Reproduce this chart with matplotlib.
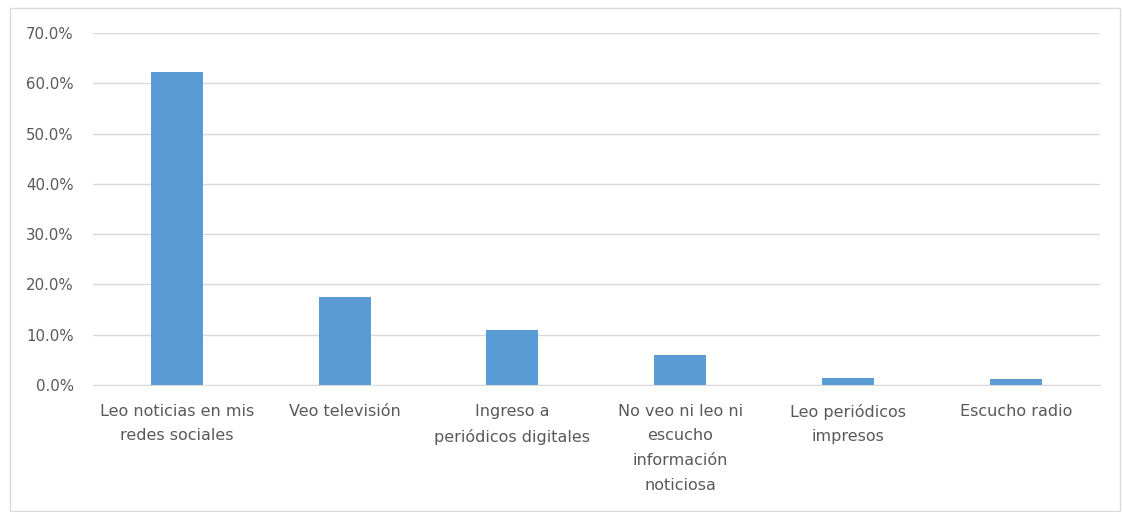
import matplotlib.pyplot as plt
from matplotlib.patches import Rectangle
from matplotlib.ticker import PercentFormatter

categorias = [
    "Leo noticias en mis\nredes sociales",
    "Veo televisión",
    "Ingreso a\nperiódicos digitales",
    "No veo ni leo ni\nescucho\ninformación\nnoticiosa",
    "Leo periódicos\nimpresos",
    "Escucho radio",
]
valores = [62.3, 17.6, 11.0, 5.9, 1.4, 1.1]
yticks = [0, 10, 20, 30, 40, 50, 60, 70]

plt.rcParams['font.family'] = ['DejaVu Sans']
texto = '#595959'

fig = plt.figure(figsize=(11.22, 5.12), dpi=100)
ax = fig.add_axes([0.083, 0.248, 0.897, 0.6875])

fig.patches.append(Rectangle((10 / 1122, 0.002), 1110 / 1122, 1 - 8 / 512 - 0.002,
                             transform=fig.transFigure, fill=False,
                             edgecolor='#d9d9d9', linewidth=1))

x = range(len(categorias))
ax.bar(x, valores, width=0.31, color='#5b9bd5', zorder=3)

ax.set_xlim(-0.5, len(categorias) - 0.5)
ax.set_ylim(0, 70)
ax.set_yticks(yticks)
ax.yaxis.set_major_formatter(PercentFormatter(decimals=1))
ax.grid(axis='y', color='#d9d9d9', linewidth=1, zorder=0)

ax.set_xticks(list(x))
ax.set_xticklabels(categorias, linespacing=1.8, va='top')
ax.tick_params(axis='x', length=0, pad=13.5, labelsize=11.5, labelcolor=texto)
ax.tick_params(axis='y', length=0, pad=14, labelsize=10.8, labelcolor=texto)

for lado in ['top', 'right', 'left']:
    ax.spines[lado].set_visible(False)
ax.spines['bottom'].set_color('#d9d9d9')
ax.spines['bottom'].set_zorder(4)

fig.savefig('out.png', dpi=100)
